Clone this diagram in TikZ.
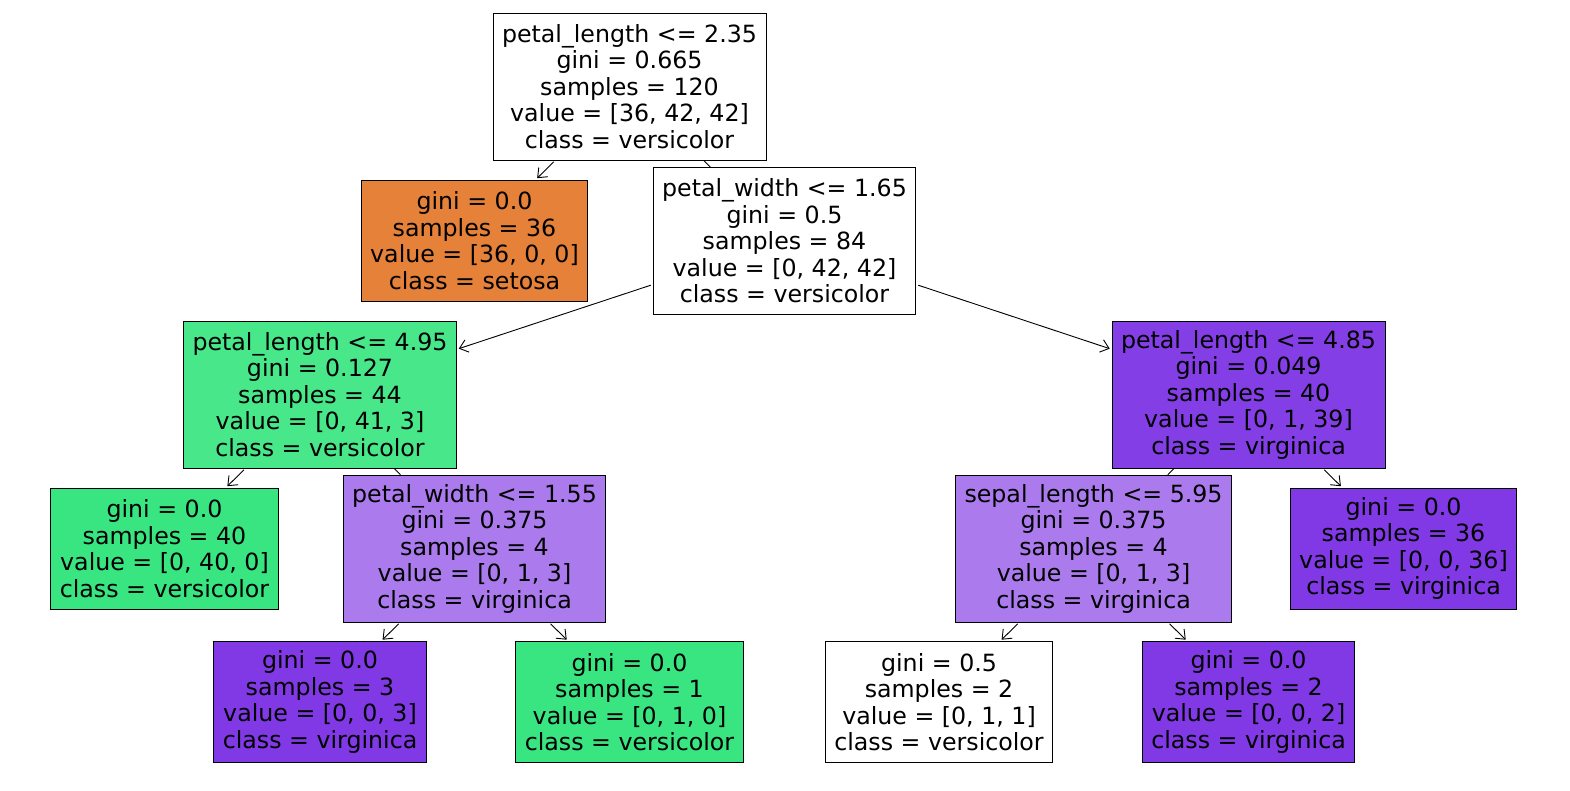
\documentclass[tikz,border=0pt]{standalone}
\usepackage{fontspec}
\setmainfont{DejaVu Sans}
\usepackage{xcolor}
\usetikzlibrary{arrows.meta,positioning}
\definecolor{SOrange}{RGB}{229,129,57}
\definecolor{VGreen}{RGB}{57,229,129}
\definecolor{VGreenL}{RGB}{71,231,138}
\definecolor{VPurple}{RGB}{129,57,229}
\definecolor{VPurpleD}{RGB}{132,62,230}
\definecolor{VPurpleL}{RGB}{171,123,238}

\begin{document}
\begin{tikzpicture}[
    x=1pt, y=-1pt,
    split/.style={
      draw,
      line width=0.8pt,
      minimum height=147pt,
      inner xsep=9pt,
      align=center,
      font=\fontsize{23.7}{26.5}\selectfont,
      fill=white
    },
    leaf/.style={
      split,
      minimum height=121pt
    },
    arrow/.style={-{Straight Barb[length=8pt,width=13pt]}, line width=0.9pt, shorten <=2pt, shorten >=2pt}
  ]
    \useasboundingbox (0,0) rectangle (1570,790);

    \node[split] (root) at (629.5,86.5) {petal\_length <= 2.35\\gini = 0.665\\samples = 120\\value = [36, 42, 42]\\class = versicolor};
    \node[leaf, fill=SOrange] (setosa) at (474.5,240.5) {gini = 0.0\\samples = 36\\value = [36, 0, 0]\\class = setosa};
    \node[split] (pw165) at (784.5,241) {petal\_width <= 1.65\\gini = 0.5\\samples = 84\\value = [0, 42, 42]\\class = versicolor};
    \node[split, fill=VGreenL] (pl495) at (320,394.5) {petal\_length <= 4.95\\gini = 0.127\\samples = 44\\value = [0, 41, 3]\\class = versicolor};
    \node[split, fill=VPurpleD] (pl485) at (1248.5,394.5) {petal\_length <= 4.85\\gini = 0.049\\samples = 40\\value = [0, 1, 39]\\class = virginica};
    \node[leaf, fill=VGreen] (vers40) at (164.5,548.5) {gini = 0.0\\samples = 40\\value = [0, 40, 0]\\class = versicolor};
    \node[split, fill=VPurpleL] (pw155) at (474.5,548.5) {petal\_width <= 1.55\\gini = 0.375\\samples = 4\\value = [0, 1, 3]\\class = virginica};
    \node[split, fill=VPurpleL] (sl595) at (1093.5,548.5) {sepal\_length <= 5.95\\gini = 0.375\\samples = 4\\value = [0, 1, 3]\\class = virginica};
    \node[leaf, fill=VPurple] (virg36) at (1403.5,548.5) {gini = 0.0\\samples = 36\\value = [0, 0, 36]\\class = virginica};
    \node[leaf, fill=VPurple] (virg3) at (320,702) {gini = 0.0\\samples = 3\\value = [0, 0, 3]\\class = virginica};
    \node[leaf, fill=VGreen] (vers1) at (629.5,702) {gini = 0.0\\samples = 1\\value = [0, 1, 0]\\class = versicolor};
    \node[leaf] (vers2) at (939,702) {gini = 0.5\\samples = 2\\value = [0, 1, 1]\\class = versicolor};
    \node[leaf, fill=VPurple] (virg2) at (1248.5,702) {gini = 0.0\\samples = 2\\value = [0, 0, 2]\\class = virginica};

    \draw[arrow] (root) -- (setosa);
    \draw[line width=0.9pt] (root) -- (pw165);
    \draw[arrow] (pw165) -- (pl495);
    \draw[arrow] (pw165) -- (pl485);
    \draw[arrow] (pl495) -- (vers40);
    \draw[line width=0.9pt] (pl495) -- (pw155);
    \draw[arrow] (pw155) -- (virg3);
    \draw[arrow] (pw155) -- (vers1);
    \draw[line width=0.9pt] (pl485) -- (sl595);
    \draw[arrow] (pl485) -- (virg36);
    \draw[arrow] (sl595) -- (vers2);
    \draw[arrow] (sl595) -- (virg2);
  \end{tikzpicture}
\end{document}
